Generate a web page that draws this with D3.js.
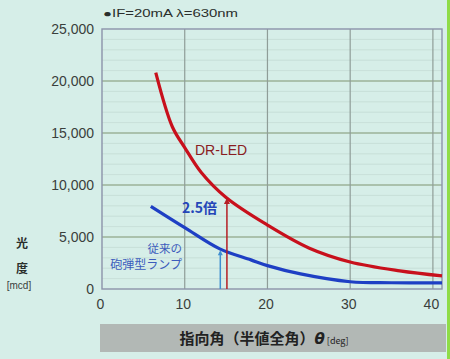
<!DOCTYPE html>
<html lang="ja">
<head>
<meta charset="UTF-8">
<script src="https://d3js.org/d3.v7.min.js"></script>
<style>
  body { margin: 0; background: #d6eee8; }
  svg { display: block; font-family: "Liberation Sans", "Noto Sans CJK JP", sans-serif; }
  .tick text { fill: #3a3f3c; font-size: 14px; }
  .jp { font-family: "Noto Sans CJK JP", sans-serif; }
</style>
</head>
<body>
<svg width="450" height="359"></svg>
<script>
  const width = 450, height = 359;

  // DR-LED curve (deg, mcd)
  const redAngle = [6.5, 8.5, 10, 12, 15, 20, 25, 30, 36, 41.1];
  const redValue = [20800, 15600, 13600, 11200, 8800, 6150, 3950, 2600, 1750, 1270];
  // conventional lamp
  const blueAngle = [5.9, 10, 14.3, 18, 20, 24, 30, 35, 41.1];
  const blueValue = [7950, 5900, 3830, 2800, 2250, 1450, 700, 600, 580];

  const xTicks = [0, 10, 20, 30, 40];
  const yTicks = [0, 5000, 10000, 15000, 20000, 25000];

  const redArrowAt = 15.1, blueArrowAt = 14.3;

  const svg = d3.select("svg");
  const x = d3.scaleLinear().domain([0, 41.1]).range([102, 442]);
  const y = d3.scaleLinear().domain([0, 25000]).range([289, 29]);

  // right edge green strip
  svg.append("rect").attr("x", 447).attr("y", 0).attr("width", 3).attr("height", height).attr("fill", "#8fdc48");

  // faint minor grid
  const g = svg.append("g");
  g.selectAll("line.minor").data(d3.range(1000, 25000, 1000).filter(d => d % 5000))
    .enter().append("line").attr("class", "minor")
    .attr("x1", x(0)).attr("x2", x(41.1)).attr("y1", y).attr("y2", y)
    .attr("stroke", "#c4dcd4").attr("stroke-width", 0.8);

  // major grid
  g.selectAll("line.hy").data(yTicks.slice(1, -1)).enter().append("line")
    .attr("x1", x(0)).attr("x2", x(41.1)).attr("y1", y).attr("y2", y)
    .attr("stroke", "#7f9370").attr("stroke-width", 1.2);
  g.selectAll("line.vx").data(xTicks.slice(1)).enter().append("line")
    .attr("y1", y(0)).attr("y2", y(25000)).attr("x1", x).attr("x2", x)
    .attr("stroke", "#8f9d98").attr("stroke-width", 1.2);

  // frame
  svg.append("rect").attr("x", x(0)).attr("y", y(25000))
    .attr("width", x(41.1) - x(0)).attr("height", y(0) - y(25000))
    .attr("fill", "none").attr("stroke", "#8c93aa").attr("stroke-width", 1.4);

  // axes
  const yAxis = d3.axisLeft(y).tickValues(yTicks).tickSize(0).tickPadding(8)
    .tickFormat(d3.format(","));
  svg.append("g").attr("transform", `translate(${x(0)},0)`).call(yAxis)
    .call(a => a.select(".domain").remove());
  const xAxis = d3.axisBottom(x).tickValues(xTicks).tickSize(0).tickPadding(10);
  svg.append("g").attr("transform", `translate(0,${y(0)})`).call(xAxis)
    .call(a => a.select(".domain").remove())
    .call(a => a.selectAll(".tick text").attr("dx", -2));

  // curves
  const line = d3.line().x(d => x(d[0])).y(d => y(d[1])).curve(d3.curveCatmullRom.alpha(0.5));
  svg.append("path").datum(d3.zip(blueAngle, blueValue)).attr("d", line)
    .attr("fill", "none").attr("stroke", "#1e3fc4").attr("stroke-width", 3.2);
  svg.append("path").datum(d3.zip(redAngle, redValue)).attr("d", line)
    .attr("fill", "none").attr("stroke", "#c8101c").attr("stroke-width", 3.2);

  // arrows
  const interp = (xs, ys, v) => {
    const i = d3.bisectLeft(xs, v);
    const t = (v - xs[i - 1]) / (xs[i] - xs[i - 1]);
    return ys[i - 1] + t * (ys[i] - ys[i - 1]);
  };
  const redTop = interp(redAngle, redValue, redArrowAt);
  const blueTop = interp(blueAngle, blueValue, blueArrowAt);
  svg.append("line").attr("x1", x(blueArrowAt)).attr("x2", x(blueArrowAt))
    .attr("y1", y(0)).attr("y2", y(blueTop) + 3).attr("stroke", "#3f8ed0").attr("stroke-width", 1.5);
  svg.append("path").attr("d", `M${x(blueArrowAt) - 2.5},${y(blueTop) + 6}L${x(blueArrowAt)},${y(blueTop) + 1}L${x(blueArrowAt) + 2.5},${y(blueTop) + 6}Z`)
    .attr("fill", "#3f8ed0");
  svg.append("line").attr("x1", x(redArrowAt)).attr("x2", x(redArrowAt))
    .attr("y1", y(0)).attr("y2", y(redTop) + 3).attr("stroke", "#b51e24").attr("stroke-width", 1.5);
  svg.append("path").attr("d", `M${x(redArrowAt) - 3},${y(redTop) + 6}L${x(redArrowAt)},${y(redTop)}L${x(redArrowAt) + 3},${y(redTop) + 6}Z`)
    .attr("fill", "#b51e24");

  // annotations
  svg.append("text").attr("x", 103).attr("y", 17).attr("font-size", 10).attr("fill", "#2a2e2c")
    .attr("textLength", 135).attr("lengthAdjust", "spacingAndGlyphs").text("●IF=20mA   λ=630nm");
  svg.append("text").attr("x", 195).attr("y", 155).attr("font-size", 14).attr("fill", "#8a1c22")
    .text("DR-LED");
  svg.append("text").attr("class", "jp").attr("x", 217).attr("y", 213).attr("text-anchor", "end")
    .attr("font-size", 14).attr("font-weight", "bold").attr("fill", "#2446b8").text("2.5倍");
  svg.append("text").attr("class", "jp").attr("x", 182).attr("y", 253).attr("text-anchor", "end")
    .attr("font-size", 11.5).attr("fill", "#3c5cbc").text("従来の");
  svg.append("text").attr("class", "jp").attr("x", 182).attr("y", 269).attr("text-anchor", "end")
    .attr("font-size", 12).attr("fill", "#3c5cbc").text("砲弾型ランプ");

  // y axis title
  svg.append("text").attr("class", "jp").attr("x", 22).attr("y", 248).attr("text-anchor", "middle")
    .attr("font-size", 12).attr("font-weight", "bold").attr("fill", "#2a2e2c").text("光");
  svg.append("text").attr("class", "jp").attr("x", 22).attr("y", 273).attr("text-anchor", "middle")
    .attr("font-size", 12).attr("font-weight", "bold").attr("fill", "#2a2e2c").text("度");
  svg.append("text").attr("x", 19).attr("y", 289).attr("text-anchor", "middle")
    .attr("font-size", 10).attr("fill", "#3a3f3c").text("[mcd]");

  // x axis title box
  svg.append("rect").attr("x", 100).attr("y", 324).attr("width", 346).attr("height", 28).attr("fill", "#b2b8b5");
  const xt = svg.append("text").attr("class", "jp").attr("x", 264).attr("y", 344)
    .attr("text-anchor", "middle").attr("fill", "#222");
  xt.append("tspan").attr("font-size", 15).attr("font-weight", "bold").text("指向角（半値全角）");
  xt.append("tspan").attr("font-size", 15).attr("font-weight", "bold").attr("font-style", "italic")
    .attr("font-family", "DejaVu Sans").text("θ");
  xt.append("tspan").attr("font-size", 9).attr("dx", 2).text("[deg]");
</script>
</body>
</html>
